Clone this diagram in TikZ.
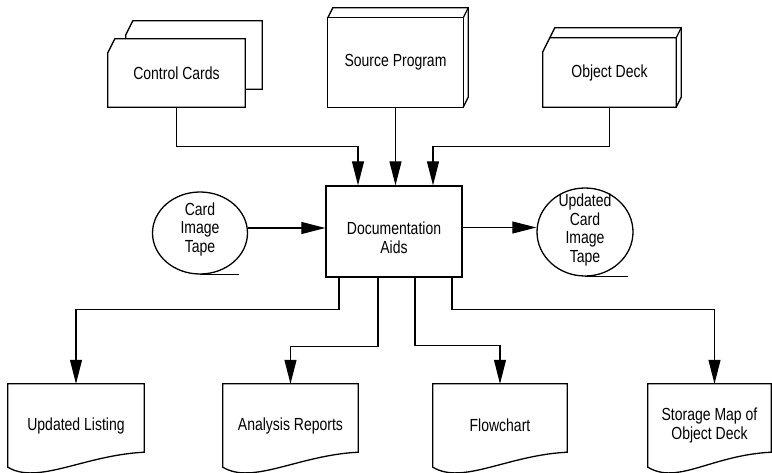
\documentclass[tikz,border=0pt]{standalone}
\usepackage{fontspec}
\setmainfont{Liberation Sans}[FakeStretch=0.8]
\usetikzlibrary{calc,shapes.geometric,arrows.meta}
\def\cardpath[#1](#2){\draw[#1] (#2.south west) -- ($(#2.north west)+(0,14)$) -- ($(#2.north west)+(7,0)$) -- (#2.north east) -- (#2.south east) -- cycle;}
\def\deckdepth[#1](#2)(#3){\draw[#1] (#3) -- ++(5,-10) -- ($(#2.north east)+(5,-10)$) -- ($(#2.south east)+(5,-10)$) -- (#2.south east); \draw[#1] (#2.north east) -- ++(5,-10);}
\def\docpath[#1](#2){\draw[#1] (#2.north west) -- (#2.north east) -- ($(#2.south east)+(0,-15)$) .. controls ($(#2.south east)+(-60,-12)$) and ($(#2.south west)+(30,18)$) .. (#2.south west) -- cycle;}

\begin{document}
\begin{tikzpicture}[x=1pt,y=-1pt,
		outline/.style={line width=1.3pt},
		flowline/.style={line width=1.1pt,-{Triangle[length=24pt,width=12pt]}},
		blank/.style={inner sep=0pt,align=center,font=\fontsize{17.5}{18.5}\selectfont},
		tape/.style={ellipse,draw,outline,inner sep=0pt}]
		%%%%% START %%%%%
		\useasboundingbox (0,0) rectangle (772,473);
		
		% cards and decks
		\node[blank,minimum width=136,minimum height=68] (ctrlback) at (194,55) {};
		\cardpath[outline,fill=white](ctrlback)
		\node[blank,fill=white,minimum width=137,minimum height=68] (ctrl) at (176.5,73) {Control Cards};
		\cardpath[outline](ctrl)
		
		\node[blank,minimum width=135,minimum height=89] (src) at (395.5,62.5) {Source Program};
		\draw[outline] (src.north west) rectangle (src.south east);
		\deckdepth[outline](src)(src.north west)
		
		\node[blank,minimum width=133,minimum height=69] (obj) at (609.5,72.5) {Object Deck};
		\coordinate (objcut) at ($(obj.north west)+(7,0)$);
		\cardpath[outline](obj)
		\deckdepth[outline](obj)(objcut)
		
		% process and tapes
		\node[blank,draw,outline,minimum width=136,minimum height=91] (doc) at (394,231.5) {};
		\node[blank] (doctext) at ([yshift=-6pt]doc.center) {Documentation\\Aids};
		
		\node[tape,minimum width=95,minimum height=82] (tin) at (200,233) {};
		\node[blank] (tintext) at ([yshift=4pt]tin.center) {Card\\Image\\Tape};
		\draw[outline] (tin.south) -- ++(39,0);
		
		\node[tape,minimum width=96,minimum height=88] (tout) at (585,232) {};
		\node[blank] (touttext) at ([yshift=2pt]tout.center) {Updated\\Card\\Image\\Tape};
		\draw[outline] (tout.south) -- ++(43,0);
		
		% printed output
		\node[blank,minimum width=136,minimum height=83] (lst) at (76,425.5) {Updated Listing};
		\docpath[outline](lst)
		\node[blank,minimum width=135,minimum height=83] (ana) at (290.5,425.5) {Analysis Reports};
		\docpath[outline](ana)
		\node[blank,minimum width=134,minimum height=83] (chart) at (500,425.5) {Flowchart};
		\docpath[outline](chart)
		\node[blank,minimum width=123,minimum height=83] (smap) at (709.5,425.5) {Storage Map of\\Object Deck};
		\docpath[outline](smap)
		
		% connectors
		\draw[flowline] (ctrl.south) -- ++(0,39) -| ([xshift=-36pt]doc.north);
		\draw[flowline] (src.south) -- (src.south |- doc.north);
		\draw[flowline] (obj.south) -- ++(0,39) -| ([xshift=39pt]doc.north);
		\draw[flowline] ([yshift=5pt]tin.east) -- ([yshift=5pt]tin.east -| doc.west);
		\draw[flowline] ([yshift=4pt]doc.east) -- ([yshift=4pt]doc.east -| tout.west);
		
		\draw[flowline] ([xshift=-55pt]doc.south) -- ++(0,32) -| (lst.north);
		\draw[flowline] ([xshift=-16pt]doc.south) -- ++(0,69) -| (ana.north);
		\draw[flowline] ([xshift=21pt]doc.south) -- ++(0,68) -| (chart.north);
		\draw[flowline] ([xshift=58pt]doc.south) -- ++(0,32) -| ([xshift=5pt]smap.north);
		
		%%%%% END %%%%%
\end{tikzpicture}
\end{document}
